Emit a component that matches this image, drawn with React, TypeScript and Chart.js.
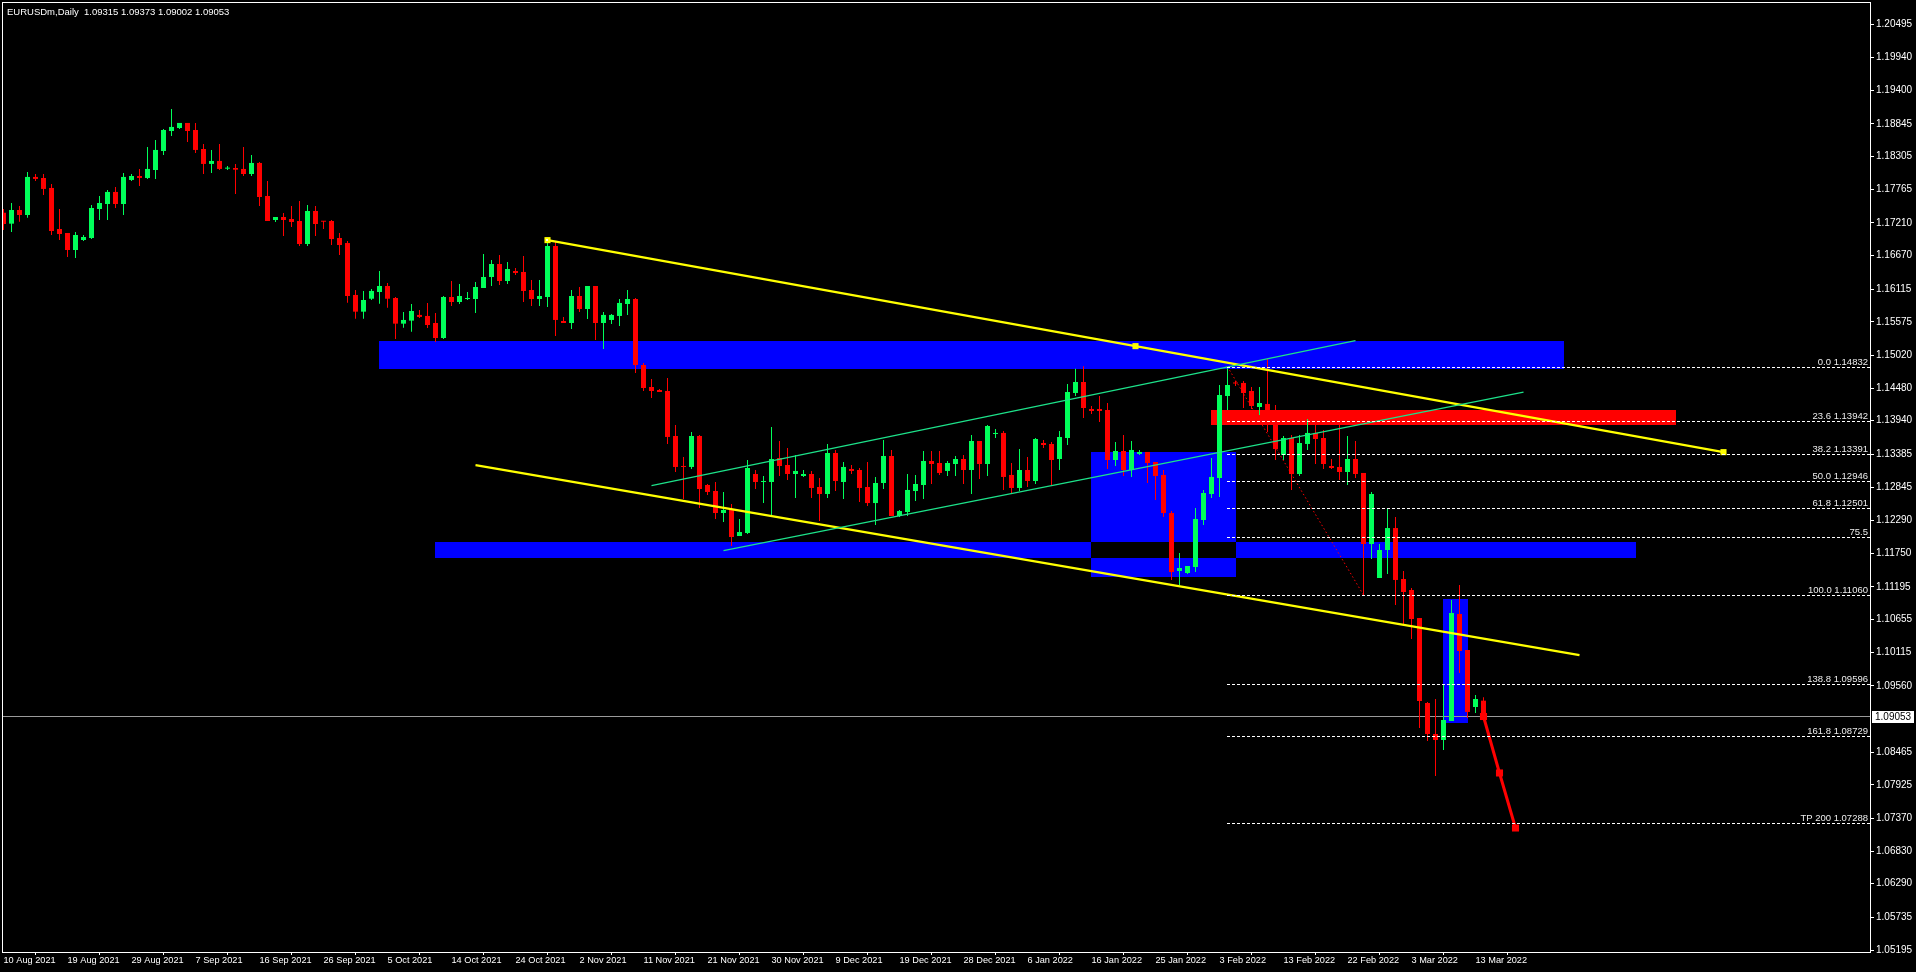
import React, { useEffect, useRef } from 'react';
import { Chart, registerables } from 'chart.js';

Chart.register(...registerables);

// ---------- candles (EURUSDm, Daily), one entry per bar ----------
const opens = [
  1.17377,1.17196,1.17422,1.17339,1.17968,1.17951,1.17786,1.17108,1.17042,1.16761,
  1.16926,1.16959,1.17438,1.17521,1.17720,1.17521,1.17918,1.17984,1.17951,1.18083,
  1.18397,1.18727,1.18777,1.18860,1.18744,1.18430,1.18183,1.18232,1.18105,1.18116,
  1.18100,1.18017,1.18199,1.17653,1.17257,1.17306,1.17273,1.17240,1.16860,1.17405,
  1.17240,1.17240,1.16959,1.16876,1.16018,1.15742,1.15956,1.16067,1.16166,1.15968,
  1.15544,1.15594,1.15688,1.15671,1.15555,1.15307,1.15984,1.15902,1.15951,1.15951,
  1.16133,1.16315,1.16530,1.16249,1.16414,1.16398,1.16100,1.15951,1.15984,1.16827,
  1.15588,1.15555,1.16001,1.15786,1.16166,1.15555,1.15605,1.15671,1.15869,1.15951,
  1.14861,1.14497,1.14448,1.14431,1.13688,1.13192,1.13176,1.13688,1.12878,1.12779,
  1.12415,1.12481,1.12035,1.12085,1.13060,1.12928,1.12928,1.13324,1.13209,1.13060,
  1.13027,1.13060,1.12845,1.12729,1.13407,1.12928,1.13143,1.13126,1.12845,1.12580,
  1.12911,1.13357,1.12366,1.12432,1.12779,1.12878,1.13275,1.13242,1.13110,1.13225,
  1.13308,1.13126,1.13605,1.13225,1.13721,1.13738,1.13044,1.12829,1.13126,1.12944,
  1.13572,1.13556,1.13308,1.13655,1.14398,1.14580,1.14134,1.14134,1.14117,1.13291,
  1.13440,1.13126,1.13391,1.13424,1.13258,1.13044,1.12415,1.11457,1.11424,1.11523,
  1.12300,1.12729,1.12994,1.14349,1.14572,1.14564,1.14431,1.14167,1.14217,1.13870,
  1.13374,1.13655,1.13060,1.13556,1.13738,1.13655,1.13192,1.13176,1.13093,1.13308,
  1.13077,1.11903,1.11341,1.11804,1.12167,1.11325,1.11143,1.10680,1.09276,1.08764,
  1.08665,1.08979,1.10747,1.10152,1.09210,1.09315,
];
const highs = [
  1.17438,1.17537,1.17488,1.18050,1.18017,1.18017,1.17852,1.17438,1.17042,1.17058,
  1.17009,1.17504,1.17653,1.17753,1.17803,1.18034,1.18017,1.18100,1.18463,1.18579,
  1.18761,1.19091,1.18860,1.18860,1.18860,1.18513,1.18414,1.18513,1.18149,1.18183,
  1.18463,1.18331,1.18216,1.17902,1.17306,1.17372,1.17488,1.17570,1.17504,1.17488,
  1.17240,1.17257,1.17042,1.16909,1.16100,1.16084,1.16117,1.16415,1.16216,1.15984,
  1.15737,1.15869,1.15770,1.15886,1.15720,1.16001,1.16249,1.16199,1.16067,1.16232,
  1.16695,1.16596,1.16679,1.16563,1.16464,1.16662,1.16265,1.16265,1.16893,1.16893,
  1.15654,1.16100,1.16150,1.16166,1.16166,1.15737,1.15704,1.15951,1.16100,1.15968,
  1.14894,1.14629,1.14464,1.14646,1.13870,1.13341,1.13754,1.13704,1.12895,1.12928,
  1.12763,1.12564,1.12316,1.13291,1.13126,1.13027,1.13837,1.13605,1.13490,1.13374,
  1.13126,1.13110,1.12994,1.13556,1.13457,1.13258,1.13209,1.13159,1.13258,1.13011,
  1.13622,1.13457,1.12465,1.13060,1.13044,1.13440,1.13440,1.13440,1.13275,1.13357,
  1.13374,1.13704,1.13605,1.13870,1.13804,1.13771,1.13242,1.13473,1.13341,1.13655,
  1.13622,1.13589,1.13771,1.14547,1.14800,1.14840,1.14184,1.14349,1.14233,1.13589,
  1.13704,1.13605,1.13457,1.13424,1.13258,1.13126,1.12448,1.11755,1.11540,1.12498,
  1.12796,1.13324,1.14531,1.14832,1.14597,1.14597,1.14497,1.14497,1.14960,1.14200,
  1.13688,1.13704,1.13704,1.13969,1.13870,1.13787,1.13308,1.13870,1.13688,1.13605,
  1.13077,1.12763,1.11903,1.12481,1.12349,1.11457,1.11176,1.10680,1.09293,1.09342,
  1.09590,1.10978,1.11226,1.10152,1.09408,1.09373,
];
const lows = [
  1.17091,1.17058,1.17227,1.17295,1.17902,1.17670,1.17009,1.16926,1.16645,1.16629,
  1.16909,1.16942,1.17257,1.17257,1.17455,1.17339,1.17902,1.17819,1.17935,1.17935,
  1.18331,1.18645,1.18761,1.18546,1.18364,1.18017,1.18034,1.18083,1.18083,1.17687,
  1.17984,1.17984,1.17488,1.17240,1.17224,1.16992,1.17141,1.16827,1.16827,1.16992,
  1.17108,1.16843,1.16678,1.15890,1.15626,1.15626,1.15935,1.15874,1.15808,1.15291,
  1.15478,1.15412,1.15638,1.15472,1.15241,1.15291,1.15836,1.15869,1.15935,1.15720,
  1.16133,1.16166,1.16183,1.16199,1.16348,1.15902,1.15836,1.15836,1.15819,1.15340,
  1.15555,1.15456,1.15737,1.15621,1.15274,1.15125,1.15538,1.15505,1.15688,1.14729,
  1.14431,1.14316,1.14415,1.13556,1.13093,1.12647,1.13143,1.12498,1.12713,1.12316,
  1.12267,1.11870,1.12035,1.12068,1.12812,1.12580,1.12382,1.13027,1.12961,1.12663,
  1.13011,1.12663,1.12283,1.12663,1.12779,1.12647,1.13060,1.12597,1.12531,1.12217,
  1.12812,1.12366,1.12349,1.12366,1.12614,1.12647,1.12895,1.13044,1.13027,1.13027,
  1.12895,1.12729,1.12978,1.13027,1.13655,1.12796,1.12746,1.12779,1.12845,1.12895,
  1.13490,1.12862,1.13126,1.13539,1.14349,1.13985,1.14051,1.13919,1.13143,1.13192,
  1.13027,1.13011,1.13374,1.12911,1.12630,1.12349,1.11309,1.11226,1.11408,1.11440,
  1.12217,1.12663,1.12680,1.14117,1.14514,1.14150,1.14134,1.14035,1.13754,1.13291,
  1.13291,1.12796,1.13027,1.13457,1.13225,1.13143,1.13143,1.12961,1.12878,1.12994,
  1.11060,1.11655,1.11341,1.11408,1.10895,1.10565,1.10334,1.08863,1.08648,1.08070,
  1.08500,1.08979,1.09772,1.09029,1.09111,1.09002,
];
const closes = [
  1.17190,1.17422,1.17339,1.17968,1.17935,1.17770,1.17075,1.17025,1.16761,1.17009,
  1.16976,1.17455,1.17537,1.17720,1.17521,1.17968,1.17984,1.17951,1.18100,1.18414,
  1.18744,1.18794,1.18860,1.18727,1.18414,1.18183,1.18232,1.18100,1.18116,1.18088,
  1.18017,1.18199,1.17637,1.17240,1.17306,1.17257,1.17224,1.16860,1.17405,1.17190,
  1.17228,1.16942,1.16843,1.16001,1.15742,1.15935,1.16084,1.16166,1.15956,1.15544,
  1.15605,1.15753,1.15655,1.15522,1.15307,1.15984,1.15902,1.16001,1.15968,1.16150,
  1.16315,1.16530,1.16249,1.16447,1.16381,1.16084,1.15951,1.16001,1.16827,1.15605,
  1.15555,1.16001,1.15786,1.16166,1.15555,1.15688,1.15688,1.15886,1.15951,1.14861,
  1.14481,1.14431,1.14415,1.13672,1.13176,1.13176,1.13688,1.12812,1.12763,1.12415,
  1.12465,1.12019,1.12101,1.13159,1.12928,1.12944,1.13308,1.13192,1.13060,1.13110,
  1.13060,1.12829,1.12729,1.13407,1.12944,1.13176,1.13110,1.12829,1.12580,1.12911,
  1.13357,1.12366,1.12448,1.12796,1.12895,1.13275,1.13225,1.13077,1.13242,1.13308,
  1.13126,1.13605,1.13225,1.13853,1.13738,1.13011,1.12829,1.13126,1.12944,1.13638,
  1.13539,1.13291,1.13671,1.14415,1.14580,1.14150,1.14101,1.14101,1.13291,1.13440,
  1.13126,1.13457,1.13424,1.13242,1.13027,1.12415,1.11440,1.11507,1.11540,1.12316,
  1.12746,1.13011,1.14365,1.14530,1.14555,1.14398,1.14184,1.14233,1.14117,1.13473,
  1.13655,1.13060,1.13572,1.13738,1.13638,1.13225,1.13159,1.13093,1.13308,1.13060,
  1.11903,1.12729,1.11804,1.12167,1.11309,1.11110,1.10664,1.09309,1.08764,1.08665,
  1.08995,1.10763,1.10135,1.09128,1.09342,1.09053,
];

// ---------- axes ----------
const dateLabels = [
  '10 Aug 2021','19 Aug 2021','29 Aug 2021','7 Sep 2021','16 Sep 2021','26 Sep 2021',
  '5 Oct 2021','14 Oct 2021','24 Oct 2021','2 Nov 2021','11 Nov 2021','21 Nov 2021',
  '30 Nov 2021','9 Dec 2021','19 Dec 2021','28 Dec 2021','6 Jan 2022','16 Jan 2022',
  '25 Jan 2022','3 Feb 2022','13 Feb 2022','22 Feb 2022','3 Mar 2022','13 Mar 2022',
];
const dateBars = [0,8,16,24,32,40,48,56,64,72,80,88,96,104,112,120,128,136,144,152,160,168,176,184];
const priceTicks = [
  1.20495,1.19940,1.19400,1.18845,1.18305,1.17765,1.17210,1.16670,1.16115,1.15575,
  1.15020,1.14480,1.13940,1.13385,1.12845,1.12290,1.11750,1.11195,1.10655,1.10115,
  1.09560,1.08465,1.07925,1.07370,1.06830,1.06290,1.05735,1.05195,
];
const symbolTitle = 'EURUSDm,Daily';
const lastBid = 1.09053;

// ---------- objects drawn on the chart ----------
const fibLabels = ['0.0 1.14832','23.6 1.13942','38.2 1.13391','50.0 1.12946','61.8 1.12501','75.5','100.0 1.11060','138.8 1.09596','161.8 1.08729','TP 200 1.07288'];
const fibPrices = [1.14832,1.13942,1.13391,1.12946,1.12501,1.12014,1.11060,1.09596,1.08729,1.07288];
const fibStartBar = 153;
const fibSwing = [{ x: 153, y: 1.14832 }, { x: 170, y: 1.11060 }];
const upperYellow = [{ x: 68, y: 1.16924 }, { x: 141.5, y: 1.151725 }, { x: 215, y: 1.13421 }];
const lowerYellow = [{ x: 59, y: 1.13207 }, { x: 197, y: 1.10068 }];
const channelTop = [{ x: 81, y: 1.12868 }, { x: 169, y: 1.15263 }];
const channelBottom = [{ x: 90, y: 1.11794 }, { x: 190, y: 1.14414 }];
const projection = [{ x: 185, y: 1.09053 }, { x: 187, y: 1.08120 }, { x: 189, y: 1.07211 }];
const blueZones = [
  { from: 47, to: 195, hi: 1.15257, lo: 1.14787 },
  { from: 54, to: 204, hi: 1.11936, lo: 1.11676 },
  { from: 136, to: 154, hi: 1.13424, lo: 1.11358 },
  { from: 180, to: 183, hi: 1.10995, lo: 1.08946 },
];
const redZones = [{ from: 151, to: 209, hi: 1.14118, lo: 1.13870 }];

// ---------- styling / geometry ----------
const W = 1916;
const H = 972;
const X_MIN = -0.1875;
const X_MAX = 233.3125;
const Y_MIN = 1.05162;
const Y_MAX = 1.208585;
const FONT = "'Liberation Sans', Arial, sans-serif";
const UP = '#00ff5a';
const DOWN = '#ff0000';
const BLUE = '#0000ff';
const YELLOW = '#ffff00';
const CHANNEL = '#1de28a';

const mt4Plugin = {
  id: 'mt4',
  beforeDraw(chart: any) {
    const { ctx } = chart;
    ctx.save();
    ctx.fillStyle = '#000';
    ctx.fillRect(0, 0, chart.width, chart.height);
    ctx.restore();
  },
  beforeDatasetsDraw(chart: any) {
    const { ctx, chartArea: a, scales } = chart;
    const xs = scales.x;
    const ys = scales.y;
    ctx.save();
    ctx.beginPath();
    ctx.rect(a.left, a.top, a.right - a.left, a.bottom - a.top);
    ctx.clip();
    const box = (z: any) => {
      const x0 = Math.floor(xs.getPixelForValue(z.from));
      const x1 = Math.floor(xs.getPixelForValue(z.to));
      const y0 = Math.round(ys.getPixelForValue(z.hi));
      const y1 = Math.round(ys.getPixelForValue(z.lo));
      return { x0, y0, w: x1 - x0 + 1, h: y1 - y0 };
    };
    ctx.fillStyle = BLUE;
    blueZones.forEach((z) => { const b = box(z); ctx.fillRect(b.x0, b.y0, b.w, b.h); });
    // overlapping parts of the blue rectangles cancel out (MT4 XOR look)
    ctx.fillStyle = '#000';
    for (let i = 0; i < blueZones.length; i++) {
      for (let j = i + 1; j < blueZones.length; j++) {
        const A = blueZones[i];
        const B = blueZones[j];
        const from = Math.max(A.from, B.from);
        const to = Math.min(A.to, B.to);
        const hi = Math.min(A.hi, B.hi);
        const lo = Math.max(A.lo, B.lo);
        if (from < to && lo < hi) {
          const b = box({ from, to, hi, lo });
          ctx.fillRect(b.x0, b.y0, b.w, b.h);
        }
      }
    }
    ctx.fillStyle = DOWN;
    redZones.forEach((z) => { const b = box(z); ctx.fillRect(b.x0, b.y0, b.w, b.h); });
    ctx.restore();
  },
  afterDatasetsDraw(chart: any) {
    const { ctx, chartArea: a, scales } = chart;
    const xs = scales.x;
    const ys = scales.y;
    ctx.save();
    // fibo levels: crisp dashed white lines from the swing bar to the right edge
    const fx = Math.floor(xs.getPixelForValue(fibStartBar));
    ctx.strokeStyle = '#ffffff';
    ctx.lineWidth = 1;
    ctx.setLineDash([3, 2]);
    fibPrices.forEach((p) => {
      const py = Math.round(ys.getPixelForValue(p)) + 0.5;
      ctx.beginPath();
      ctx.moveTo(fx, py);
      ctx.lineTo(a.right, py);
      ctx.stroke();
    });
    ctx.setLineDash([]);
    // white centre dot of the selected trendline's anchor
    const sx = Math.floor(xs.getPixelForValue(upperYellow[0].x));
    const sy = Math.round(ys.getPixelForValue(upperYellow[0].y));
    ctx.fillStyle = '#ffffff';
    ctx.fillRect(sx - 1, sy - 1, 2, 2);
    // fibo level captions
    ctx.font = `9.5px ${FONT}`;
    ctx.fillStyle = '#ececec';
    ctx.textAlign = 'right';
    ctx.textBaseline = 'alphabetic';
    fibPrices.forEach((p, i) => {
      const py = ys.getPixelForValue(p);
      ctx.fillText(fibLabels[i], a.right - 2, Math.round(py) - 2);
    });
    // frame
    ctx.strokeStyle = '#ffffff';
    ctx.lineWidth = 1;
    ctx.strokeRect(a.left + 0.5, a.top + 0.5, a.right - a.left, a.bottom - a.top);
    ctx.restore();
  },
  afterDraw(chart: any) {
    const { ctx, chartArea: a, scales } = chart;
    const ys = scales.y;
    ctx.save();
    // last price tag on the price axis
    const py = Math.round(ys.getPixelForValue(lastBid));
    ctx.fillStyle = '#ffffff';
    ctx.fillRect(a.right + 2, py - 6, 42, 12);
    ctx.fillStyle = '#000000';
    ctx.font = `10px ${FONT}`;
    ctx.textAlign = 'left';
    ctx.textBaseline = 'middle';
    ctx.fillText(lastBid.toFixed(5), a.right + 5, py + 0.5);
    // header
    ctx.fillStyle = '#ffffff';
    ctx.font = `9.5px ${FONT}`;
    ctx.textBaseline = 'alphabetic';
    const last = opens.length - 1;
    const header = `${symbolTitle}  ${opens[last].toFixed(5)} ${highs[last].toFixed(5)} ${lows[last].toFixed(5)} ${closes[last].toFixed(5)}`;
    ctx.fillText(header, 7, 15);
    ctx.restore();
  },
};

export default function App() {
  const ref = useRef<HTMLCanvasElement>(null);

  useEffect(() => {
    document.body.style.margin = '0';
    document.body.style.background = '#000';
    const canvas = ref.current;
    if (!canvas) return;

    const idx = opens.map((_, i) => i);
    const colors = idx.map((i) => (closes[i] > opens[i] ? UP : DOWN));
    const wickData = idx.map((i) => ({ x: i, y: [lows[i], highs[i]] }));
    const bodyData = idx.map((i) => ({ x: i, y: [opens[i], closes[i]] }));

    const lineDs = (data: any[], color: string, width: number, extra: any = {}) => ({
      type: 'line',
      data,
      borderColor: color,
      backgroundColor: color,
      borderWidth: width,
      pointRadius: 0,
      tension: 0,
      fill: false,
      order: 1,
      ...extra,
    });

    const datasets: any[] = [
      lineDs([{ x: X_MIN, y: lastBid }, { x: X_MAX, y: lastBid }], '#9a9a9a', 1, { order: 30 }),
      {
        type: 'bar',
        data: wickData,
        backgroundColor: colors,
        borderWidth: 0,
        barThickness: 1,
        grouped: false,
        inflateAmount: 0,
        order: 20,
      },
      {
        type: 'bar',
        data: bodyData,
        backgroundColor: colors,
        borderWidth: 0,
        barThickness: 5,
        minBarLength: 1,
        grouped: false,
        inflateAmount: 0,
        order: 10,
      },
      lineDs(fibSwing, DOWN, 1, { borderDash: [1.5, 2.5] }),
      lineDs(channelTop, CHANNEL, 1.2),
      lineDs(channelBottom, CHANNEL, 1.2),
      lineDs(lowerYellow, YELLOW, 2.2),
      lineDs(upperYellow, YELLOW, 2.2, { pointRadius: 4.3, pointStyle: 'rect', pointBorderWidth: 0, pointBackgroundColor: YELLOW }),
      lineDs(projection, DOWN, 3, { pointRadius: 5, pointStyle: 'rect', pointBorderWidth: 0, pointBackgroundColor: DOWN, order: 0 }),
    ];

    const chart = new Chart(canvas, {
      type: 'bar',
      data: { datasets },
      options: {
        responsive: false,
        maintainAspectRatio: false,
        animation: false,
        devicePixelRatio: 1,
        events: [],
        layout: { autoPadding: false, padding: { left: 2, top: 2, right: 0, bottom: 0 } },
        plugins: {
          legend: { display: false },
          tooltip: { enabled: false },
          title: { display: false },
        },
        scales: {
          x: {
            type: 'linear',
            position: 'bottom',
            min: X_MIN,
            max: X_MAX,
            offset: false,
            border: { display: false },
            grid: { display: true, drawOnChartArea: false, drawTicks: true, tickLength: 3, color: '#ffffff', lineWidth: 1 },
            ticks: {
              autoSkip: false,
              maxRotation: 0,
              minRotation: 0,
              align: 'start',
              padding: 0,
              color: '#ffffff',
              font: { family: FONT, size: 9.2 },
              callback: (_v: any, i: number) => dateLabels[i] ?? '',
            },
            afterBuildTicks: (s: any) => { s.ticks = dateBars.map((v) => ({ value: v })); },
            afterFit: (s: any) => { s.height = 20; s.paddingLeft = 0; s.paddingRight = 0; },
          },
          y: {
            type: 'linear',
            position: 'right',
            min: Y_MIN,
            max: Y_MAX,
            border: { display: false },
            grid: { display: true, drawOnChartArea: false, drawTicks: true, tickLength: 4, color: '#ffffff', lineWidth: 1 },
            ticks: {
              autoSkip: false,
              padding: 2,
              color: '#ffffff',
              font: { family: FONT, size: 10 },
              callback: (v: any) => Number(v).toFixed(5),
            },
            afterBuildTicks: (s: any) => { s.ticks = priceTicks.map((v) => ({ value: v })); },
            afterFit: (s: any) => { s.width = 46; s.paddingTop = 0; s.paddingBottom = 0; },
          },
        },
      } as any,
      plugins: [mt4Plugin],
    } as any);

    return () => chart.destroy();
  }, []);

  return (
    <div style={{ width: W, height: H, background: '#000', overflow: 'hidden' }}>
      <canvas ref={ref} width={W} height={H} style={{ display: 'block', width: W, height: H }} />
    </div>
  );
}
